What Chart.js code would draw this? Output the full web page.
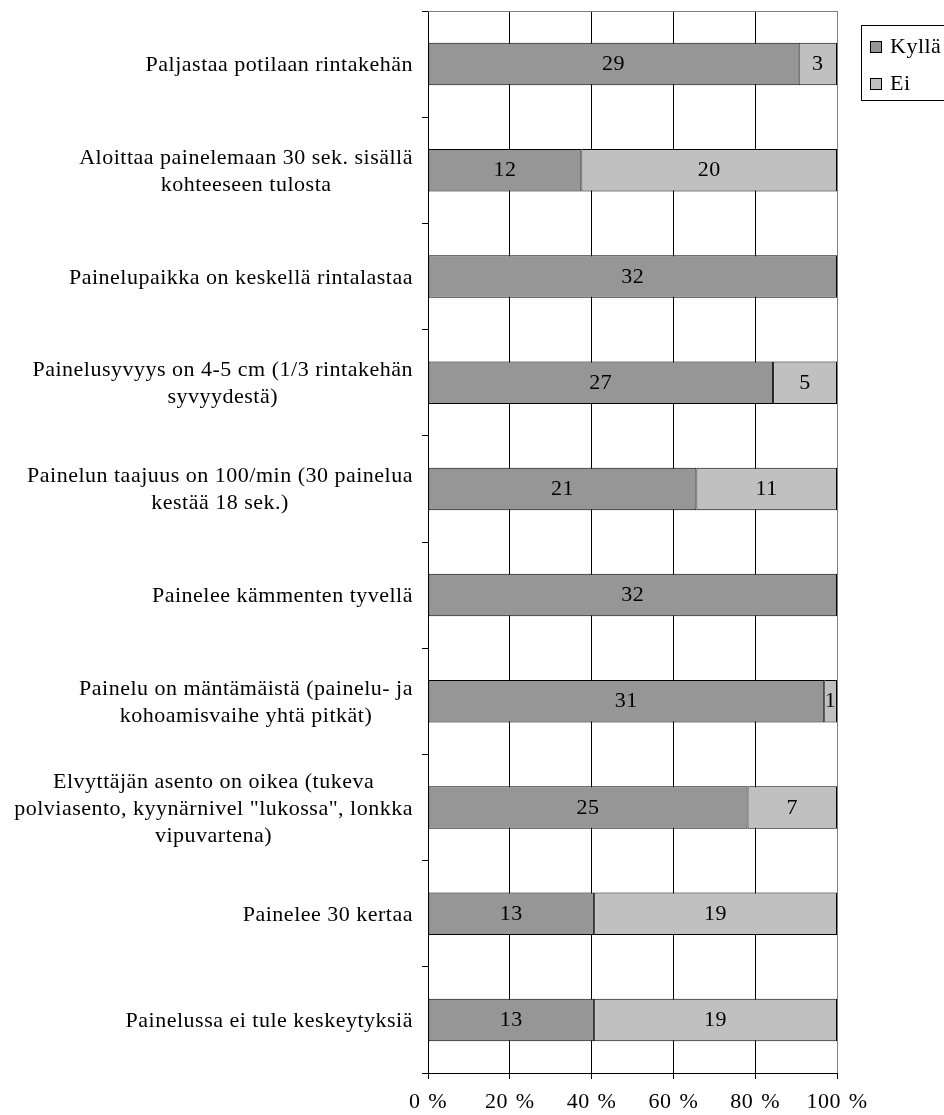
<!DOCTYPE html>
<html>
<head>
<meta charset="utf-8">
<script src="https://cdn.jsdelivr.net/npm/chart.js@4.4.1/dist/chart.umd.min.js"></script>
<style>
  html, body { margin: 0; padding: 0; background: #fff; }
  #wrap { width: 944px; height: 1115px; }
</style>
</head>
<body>
<div id="wrap"><canvas id="c" width="944" height="1115"></canvas></div>
<script>
// Elvytystaitojen arviointi: kyllä / ei -vastausten määrät (n = 32)
const categories = [
  ["Paljastaa potilaan rintakehän"],
  ["Aloittaa painelemaan 30 sek. sisällä", "kohteeseen tulosta"],
  ["Painelupaikka on keskellä rintalastaa"],
  ["Painelusyvyys on 4-5 cm (1/3 rintakehän", "syvyydestä)"],
  ["Painelun taajuus on 100/min (30 painelua", "kestää 18 sek.)"],
  ["Painelee kämmenten tyvellä"],
  ["Painelu on mäntämäistä (painelu- ja", "kohoamisvaihe yhtä pitkät)"],
  ["Elvyttäjän asento on oikea (tukeva", "polviasento, kyynärnivel \"lukossa\", lonkka", "vipuvartena)"],
  ["Painelee 30 kertaa"],
  ["Painelussa ei tule keskeytyksiä"]
];
const kylla = [29, 12, 32, 27, 21, 32, 31, 25, 13, 13];
const ei    = [3, 20, 0, 5, 11, 0, 1, 7, 19, 19];
const seriesNames = ["Kyllä", "Ei"];
const xTicks = [0, 20, 40, 60, 80, 100];

const FONT = "'Liberation Serif', 'Times New Roman', serif";
const counts = [kylla, ei];
const toPct = (arr) => arr.map((v, i) => v / (kylla[i] + ei[i]) * 100);
const fills = ['#969696', '#C0C0C0'];

// slightly open letter spacing for all chart text
const textSpacing = {
  id: 'textSpacing',
  beforeDraw(chart) { chart.ctx.letterSpacing = '0.5px'; }
};

// category labels: each block centred on its widest line, block right-aligned to the axis
const categoryLabels = {
  id: 'categoryLabels',
  afterDraw(chart) {
    const ctx = chart.ctx, y = chart.scales.y;
    ctx.save();
    ctx.letterSpacing = '0.5px';
    ctx.font = '22px ' + FONT;
    ctx.fillStyle = '#000';
    ctx.textAlign = 'center';
    ctx.textBaseline = 'alphabetic';
    const lh = 27, rightEdge = 413;
    categories.forEach((lines, i) => {
      const cy = y.getPixelForValue(i);
      const w = Math.max(...lines.map(l => ctx.measureText(l).width));
      const cx = rightEdge - w / 2;
      const n = lines.length;
      lines.forEach((l, k) => {
        ctx.fillText(l, cx, cy + 7 + (k - (n - 1) / 2) * lh);
      });
    });
    ctx.restore();
  }
};

// grey frame on the top and right of the plot area
const plotFrame = {
  id: 'plotFrame',
  beforeDatasetsDraw(chart) {
    const { ctx, chartArea: a } = chart;
    ctx.save();
    ctx.strokeStyle = '#808080';
    ctx.lineWidth = 1;
    ctx.beginPath();
    ctx.moveTo(a.left, Math.round(a.top) + 0.5);
    ctx.lineTo(Math.round(a.right) + 0.5, Math.round(a.top) + 0.5);
    ctx.lineTo(Math.round(a.right) + 0.5, a.bottom);
    ctx.stroke();
    ctx.restore();
  }
};

// count labels in the middle of each segment
const valueLabels = {
  id: 'valueLabels',
  afterDatasetsDraw(chart) {
    const ctx = chart.ctx;
    ctx.save();
    ctx.letterSpacing = '0.5px';
    ctx.font = '22px ' + FONT;
    ctx.fillStyle = '#000';
    ctx.textAlign = 'center';
    ctx.textBaseline = 'alphabetic';
    chart.data.datasets.forEach((ds, di) => {
      chart.getDatasetMeta(di).data.forEach((el, i) => {
        const v = counts[di][i];
        if (!v) return;
        ctx.fillText(String(v), (el.x + el.base) / 2, el.y + 6);
      });
    });
    ctx.restore();
  }
};

// boxed legend at the top right
const boxLegend = {
  id: 'boxLegend',
  afterDraw(chart) {
    const ctx = chart.ctx;
    ctx.save();
    ctx.letterSpacing = '0.5px';
    ctx.strokeStyle = '#000';
    ctx.lineWidth = 1;
    ctx.strokeRect(861.5, 25.5, 100, 75);
    ctx.font = '22px ' + FONT;
    ctx.textAlign = 'left';
    ctx.textBaseline = 'alphabetic';
    const rows = [41, 78];
    seriesNames.forEach((name, i) => {
      ctx.fillStyle = fills[i];
      ctx.fillRect(870.5, rows[i] + 0.5, 11, 11);
      ctx.strokeRect(870.5, rows[i] + 0.5, 11, 11);
      ctx.fillStyle = '#000';
      ctx.fillText(name, 890, rows[i] + 12);
    });
    ctx.restore();
  }
};

new Chart(document.getElementById('c'), {
  type: 'bar',
  data: {
    labels: categories,
    datasets: seriesNames.map((name, i) => ({
      label: name,
      data: toPct(counts[i]),
      backgroundColor: fills[i],
      borderColor: '#000',
      borderWidth: 1,
      borderSkipped: false,
      categoryPercentage: 0.4,
      barPercentage: 1
    }))
  },
  options: {
    indexAxis: 'y',
    responsive: false,
    animation: false,
    layout: { padding: { top: 11, right: 107, left: 0, bottom: 0 } },
    plugins: { legend: { display: false }, tooltip: { enabled: false } },
    scales: {
      x: {
        stacked: true,
        min: 0,
        max: 100,
        afterBuildTicks(scale) { scale.ticks = xTicks.map(v => ({ value: v })); },
        afterFit(scale) { scale.height = 42; },
        border: { display: true, color: '#000', width: 1 },
        grid: {
          color: (c) => (c.tick && c.tick.value === 100 ? '#808080' : '#000'),
          tickColor: '#000',
          lineWidth: 1,
          tickLength: 6,
          drawTicks: true
        },
        ticks: {
          padding: 10,
          color: '#000',
          font: { family: FONT, size: 22 },
          maxRotation: 0,
          callback: (v) => v + '\u2004%'
        }
      },
      y: {
        stacked: true,
        afterFit(scale) { scale.width = 428; },
        border: { display: true, color: '#000', width: 1 },
        grid: {
          display: true,
          offset: true,
          drawOnChartArea: false,
          color: '#000',
          tickLength: 6
        },
        ticks: { display: false }
      }
    }
  },
  plugins: [textSpacing, plotFrame, valueLabels, categoryLabels, boxLegend]
});
</script>
</body>
</html>
